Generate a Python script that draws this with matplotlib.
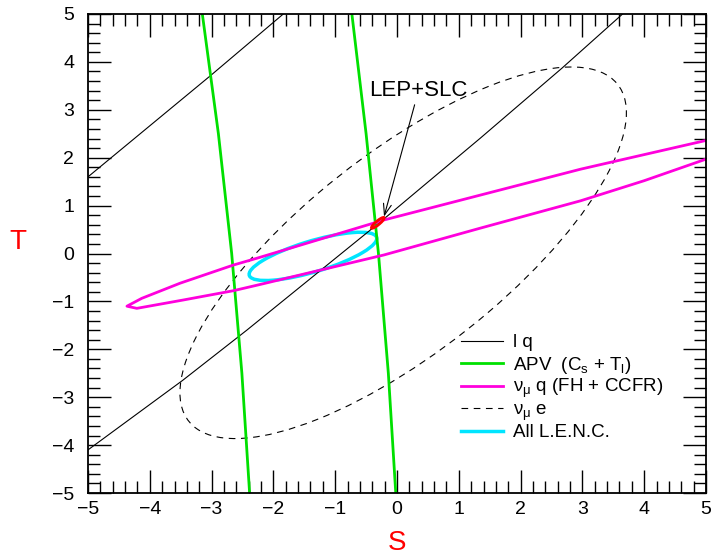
import numpy as np
import matplotlib
matplotlib.use('Agg')
import matplotlib.pyplot as plt
from matplotlib.patches import Ellipse
from matplotlib.ticker import MultipleLocator

plt.rcParams['font.family'] = ['Liberation Sans', 'DejaVu Sans']
plt.rcParams['mathtext.fontset'] = 'custom'
plt.rcParams['mathtext.rm'] = 'Liberation Sans'
plt.rcParams['mathtext.it'] = 'Liberation Sans:italic'
plt.rcParams['mathtext.default'] = 'regular'

# "l q" : two bounding lines (S, T)
lq_up_s = [-5.0, -3.03, -1.84]
lq_up_t = [1.60, 3.70, 5.0]
lq_lo_s = [-5.0, -3.47, -2.43, -0.25, 1.35, 2.67, 3.65]
lq_lo_t = [-4.10, -2.65, -1.60, 0.68, 2.41, 3.87, 5.0]

# APV (Cs + Tl) : two nearly vertical lines
apv_t = [5.0, 2.5, 0.0, -2.5, -5.0]
apv_l_s = [-3.15, -2.89, -2.675, -2.51, -2.385]
apv_r_s = [-0.73, -0.50, -0.30, -0.14, -0.02]

# nu_mu q (FH + CCFR) contour, open at the right frame
numq_s = [5.0, 3.51, 2.97, 1.35, -0.21, -2.27, -2.645, -3.51, -4.13, -4.37,
          -4.21, -3.455, -2.645, -2.21, -0.21, 1.35, 2.97, 4.0, 5.0]
numq_t = [2.36, 1.92, 1.76, 1.22, 0.70, -0.10, -0.24, -0.62, -0.936, -1.10,
          -1.145, -0.97, -0.776, -0.645, -0.03, 0.53, 1.10, 1.52, 1.97]

# ellipses: centre S, centre T, width, height, angle
nue_ell = (0.10, 0.015, 9.93, 3.71, 47.7)
lenc_ell = (-1.36, -0.06, 2.21, 0.63, 21.8)
lep_ell = (-0.31, 0.64, 0.30, 0.07, 48.0)

lep_point = (-0.21, 0.77)
lep_text = (0.35, 3.41)

labels = ['l q', r'APV  (C$_s$ + T$_l$)', r'$\nu_\mu$ q (FH + CCFR)',
          r'$\nu_\mu$ e', 'All L.E.N.C.']
styles = [dict(color='k', lw=0.8),
          dict(color='#00e000', lw=2.0),
          dict(color='#ff00dd', lw=2.0),
          dict(color='k', lw=0.8, ls=(0, (6, 5))),
          dict(color='#00e5ff', lw=2.5)]

fig = plt.figure(figsize=(7.16, 5.59), dpi=100)
ax = fig.add_axes([88/716, 1-493/559, 618/716, 479/559])

ax.plot(lq_up_s, lq_up_t, **styles[0])
ax.plot(lq_lo_s, lq_lo_t, **styles[0])
ax.plot(apv_l_s, apv_t, **styles[1])
ax.plot(apv_r_s, apv_t, **styles[1])
ax.plot(numq_s, numq_t, **styles[2])

c = nue_ell
ax.add_patch(Ellipse((c[0], c[1]), c[2], c[3], angle=c[4], fill=False,
                     ec='k', lw=0.8, ls=(0, (6, 5))))
c = lenc_ell
ax.add_patch(Ellipse((c[0], c[1]), c[2], c[3], angle=c[4], fill=False,
                     ec='#00e5ff', lw=2.5))
c = lep_ell
ax.add_patch(Ellipse((c[0], c[1]), c[2], c[3], angle=c[4], fill=False,
                     ec='red', lw=2.0, zorder=5))

ax.annotate('LEP+SLC', xy=lep_point, xytext=lep_text, ha='center', va='center',
            fontsize=16,
            arrowprops=dict(arrowstyle='->,head_length=0.5,head_width=0.18',
                            color='k', lw=0.8, shrinkA=1, shrinkB=0))

ax.set_xlim(-5, 5)
ax.set_ylim(-5, 5)
ax.xaxis.set_major_locator(MultipleLocator(1))
ax.xaxis.set_minor_locator(MultipleLocator(0.2))
ax.yaxis.set_major_locator(MultipleLocator(1))
ax.yaxis.set_minor_locator(MultipleLocator(0.2))
ax.tick_params(which='both', direction='in', top=True, right=True, width=1.0)
ax.tick_params(which='major', length=16.5)
ax.tick_params(which='minor', length=8.3)
ax.tick_params(axis='x', labelsize=14, pad=6)
ax.tick_params(axis='y', labelsize=14, pad=10)
for s in ax.spines.values():
    s.set_linewidth(1.3)

ax.set_xlabel('S', color='red', fontsize=20, va='center')
ax.xaxis.set_label_coords(0.5, -0.104)
ax.set_ylabel('T', color='red', fontsize=20, rotation=0, ha='center', va='center')
ax.yaxis.set_label_coords(-0.113, 0.524)

# legend, drawn by hand so the rows are evenly spaced
for i, (lab, st) in enumerate(zip(labels, styles)):
    y = 0.318 - i*0.047
    ax.plot([0.603, 0.6715], [y, y], transform=ax.transAxes, clip_on=False, **st)
    ax.text(0.688, y - 0.0136, lab, transform=ax.transAxes, fontsize=13.5,
            ha='left', va='baseline')

fig.savefig('out.png', dpi=100)
